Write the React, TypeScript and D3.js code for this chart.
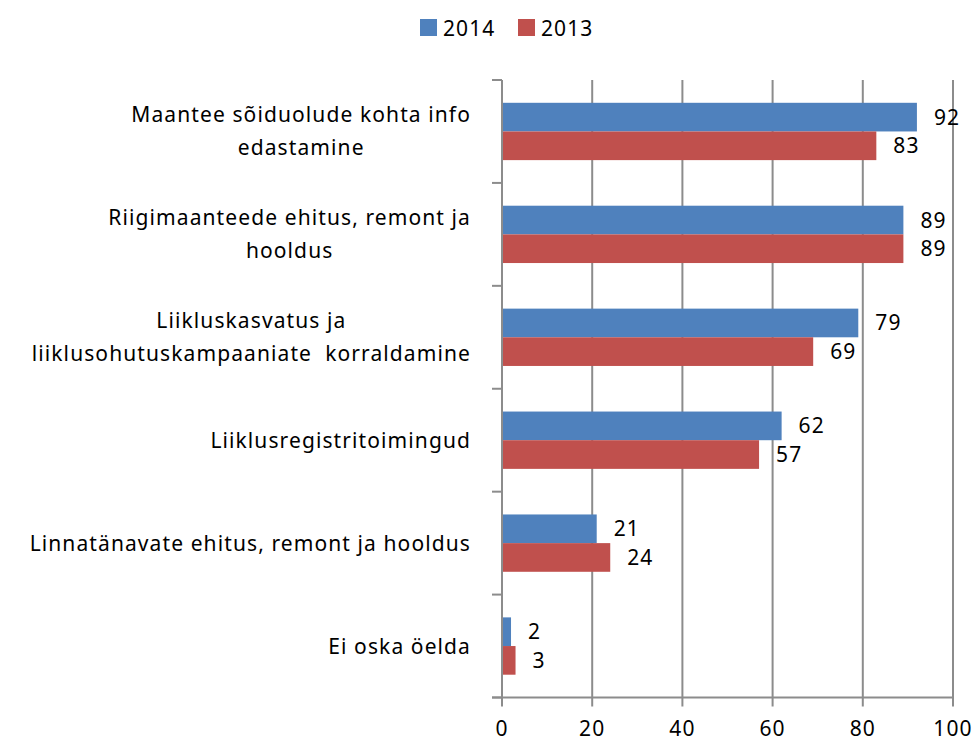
import React, { useEffect, useRef } from "react";
import * as d3 from "d3";

const categories: string[][] = [
  ["Maantee sõiduolude kohta info", "edastamine"],
  ["Riigimaanteede ehitus, remont ja", "hooldus"],
  ["Liikluskasvatus ja", "liiklusohutuskampaaniate  korraldamine"],
  ["Liiklusregistritoimingud"],
  ["Linnatänavate ehitus, remont ja hooldus"],
  ["Ei oska öelda"],
];
const seriesNames = ["2014", "2013"];
const values2014 = [92, 89, 79, 62, 21, 2];
const values2013 = [83, 89, 69, 57, 24, 3];
const xTicks = [0, 20, 40, 60, 80, 100];
const colors = ["#4F81BD", "#C0504D"];

const W = 978;
const H = 743;
const FONT = "'Noto Sans', sans-serif";
const LS = "1.1px";

export default function App() {
  const ref = useRef<SVGSVGElement>(null);

  useEffect(() => {
    const svg = d3.select(ref.current);
    svg.selectAll("*").remove();

    const x = d3.scaleLinear().domain([0, 100]).range([502, 953]);
    const keys = categories.map((_, i) => String(i));
    const y = d3
      .scaleBand<string>()
      .domain(keys)
      .range([80, 697.5])
      .paddingInner(0.443)
      .paddingOuter(0.2215);
    const ys = d3.scaleBand<string>().domain(seriesNames).range([0, y.bandwidth()]);
    const step = y.step();
    const top = 80;
    const bottom = 697.5;
    const grid = "#8C8C8C";

    svg
      .append("g")
      .selectAll("line")
      .data(xTicks.slice(1))
      .join("line")
      .attr("x1", (d) => x(d))
      .attr("x2", (d) => x(d))
      .attr("y1", top)
      .attr("y2", bottom + 9)
      .attr("stroke", grid)
      .attr("stroke-width", 2);

    const series = [values2014, values2013];
    series.forEach((vals, si) => {
      svg
        .append("g")
        .selectAll("rect")
        .data(vals)
        .join("rect")
        .attr("x", x(0))
        .attr("y", (_, i) => (y(String(i)) as number) + (ys(seriesNames[si]) as number))
        .attr("width", (d) => x(d) - x(0))
        .attr("height", ys.bandwidth())
        .attr("fill", colors[si]);
      svg
        .append("g")
        .selectAll("text")
        .data(vals)
        .join("text")
        .attr("x", (d) => x(d) + 17)
        .attr(
          "y",
          (_, i) =>
            (y(String(i)) as number) + (ys(seriesNames[si]) as number) + ys.bandwidth() / 2 + 7.5
        )
        .attr("font-family", FONT)
        .attr("font-size", 21)
        .attr("letter-spacing", LS)
        .attr("fill", "#000")
        .text((d) => String(d));
    });

    svg
      .append("line")
      .attr("x1", x(0))
      .attr("x2", x(0))
      .attr("y1", top)
      .attr("y2", bottom + 9)
      .attr("stroke", grid)
      .attr("stroke-width", 2);
    svg
      .append("line")
      .attr("x1", x(0) - 10)
      .attr("x2", x(100) + 1)
      .attr("y1", bottom)
      .attr("y2", bottom)
      .attr("stroke", grid)
      .attr("stroke-width", 2);
    const bounds = d3.range(categories.length + 1).map((i) => top + i * step);
    svg
      .append("g")
      .selectAll("line")
      .data(bounds)
      .join("line")
      .attr("x1", x(0) - 10)
      .attr("x2", x(0))
      .attr("y1", (d) => d)
      .attr("y2", (d) => d)
      .attr("stroke", grid)
      .attr("stroke-width", 2);

    svg
      .append("g")
      .selectAll("text")
      .data(xTicks)
      .join("text")
      .attr("x", (d) => x(d))
      .attr("y", 736)
      .attr("text-anchor", "middle")
      .attr("font-family", FONT)
      .attr("font-size", 21)
      .attr("letter-spacing", LS)
      .attr("fill", "#000")
      .text((d) => String(d));

    const rightEdge = 471;
    const lineH = 33;
    categories.forEach((lines, i) => {
      const cy = (y(String(i)) as number) + y.bandwidth() / 2;
      const g = svg.append("g");
      const texts = lines.map((ln, li) =>
        g
          .append("text")
          .attr("y", cy + 7.5 + (li - (lines.length - 1) / 2) * lineH)
          .attr("font-family", FONT)
          .attr("font-size", 21)
          .attr("letter-spacing", LS)
          .attr("fill", "#000")
          .attr("text-anchor", "middle")
          .style("white-space", "pre")
          .text(ln)
      );
      const widths = texts.map((t) => (t.node() as SVGTextElement).getComputedTextLength());
      const maxW = Math.max(...widths);
      texts.forEach((t) => t.attr("x", rightEdge - maxW / 2));
    });

    const legend = svg.append("g");
    const lx = [420, 518];
    seriesNames.forEach((s, i) => {
      legend
        .append("rect")
        .attr("x", lx[i])
        .attr("y", 19)
        .attr("width", 17)
        .attr("height", 17)
        .attr("fill", colors[i]);
      legend
        .append("text")
        .attr("x", lx[i] + 23)
        .attr("y", 35.5)
        .attr("font-family", FONT)
        .attr("font-size", 21)
        .attr("letter-spacing", LS)
        .attr("fill", "#000")
        .text(s);
    });
  }, []);

  return (
    <svg
      ref={ref}
      width={W}
      height={H}
      style={{ position: "absolute", left: 0, top: 0, background: "#fff" }}
    />
  );
}
